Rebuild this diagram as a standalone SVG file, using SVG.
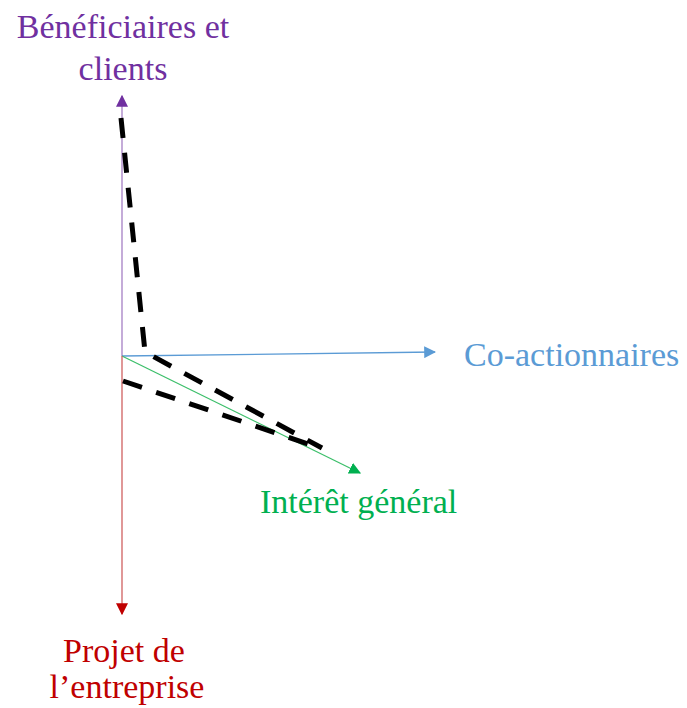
<svg xmlns="http://www.w3.org/2000/svg" width="687" height="708" viewBox="0 0 687 708">
<style>
.lbl{font-family:"Liberation Serif","Times New Roman",serif;font-size:34px}
.axis{stroke-width:1.3;fill:none}
.dash{stroke:#000;stroke-width:5;fill:none;stroke-dasharray:20 15}
</style>
<defs>
<marker id="mP" viewBox="0 0 10 10" refX="9" refY="5" markerWidth="12" markerHeight="12" markerUnits="userSpaceOnUse" orient="auto"><path d="M0,0L10,5L0,10z" fill="#7030A0"/></marker>
<marker id="mB" viewBox="0 0 10 10" refX="9" refY="5" markerWidth="12" markerHeight="12" markerUnits="userSpaceOnUse" orient="auto"><path d="M0,0L10,5L0,10z" fill="#5B9BD5"/></marker>
<marker id="mG" viewBox="0 0 10 10" refX="9" refY="5" markerWidth="12" markerHeight="12" markerUnits="userSpaceOnUse" orient="auto"><path d="M0,0L10,5L0,10z" fill="#00B050"/></marker>
<marker id="mR" viewBox="0 0 10 10" refX="9" refY="5" markerWidth="12" markerHeight="12" markerUnits="userSpaceOnUse" orient="auto"><path d="M0,0L10,5L0,10z" fill="#C00000"/></marker>
</defs>
<g id="connectors">
<line class="axis" x1="122" y1="356" x2="122" y2="96" stroke="#A57FC4" marker-end="url(#mP)"/>
<line class="axis" x1="122" y1="356" x2="435" y2="352" stroke="#5B9BD5" marker-end="url(#mB)"/>
<line class="axis" x1="122" y1="356" x2="360" y2="473" stroke="#3CBF6A" marker-end="url(#mG)"/>
<line class="axis" x1="122" y1="356" x2="122" y2="614" stroke="#D06060" marker-end="url(#mR)"/>
<polyline class="dash" points="121,118 145,352 322,448"/>
<line class="dash" x1="123" y1="381" x2="320" y2="448"/>
</g>
<g id="node-beneficiaires"><text class="lbl" fill="#7030A0" text-anchor="middle" x="123" y="38">Bénéficiaires et</text><text class="lbl" fill="#7030A0" text-anchor="middle" x="123" y="80">clients</text></g>
<g id="node-coactionnaires"><text class="lbl" fill="#5B9BD5" x="464" y="366">Co-actionnaires</text></g>
<g id="node-interet"><text class="lbl" fill="#00B050" x="260" y="513">Intérêt général</text></g>
<g id="node-projet"><text class="lbl" fill="#C00000" text-anchor="middle" x="124" y="662">Projet de</text><text class="lbl" fill="#C00000" text-anchor="middle" x="127" y="698">l’entreprise</text></g>
</svg>
